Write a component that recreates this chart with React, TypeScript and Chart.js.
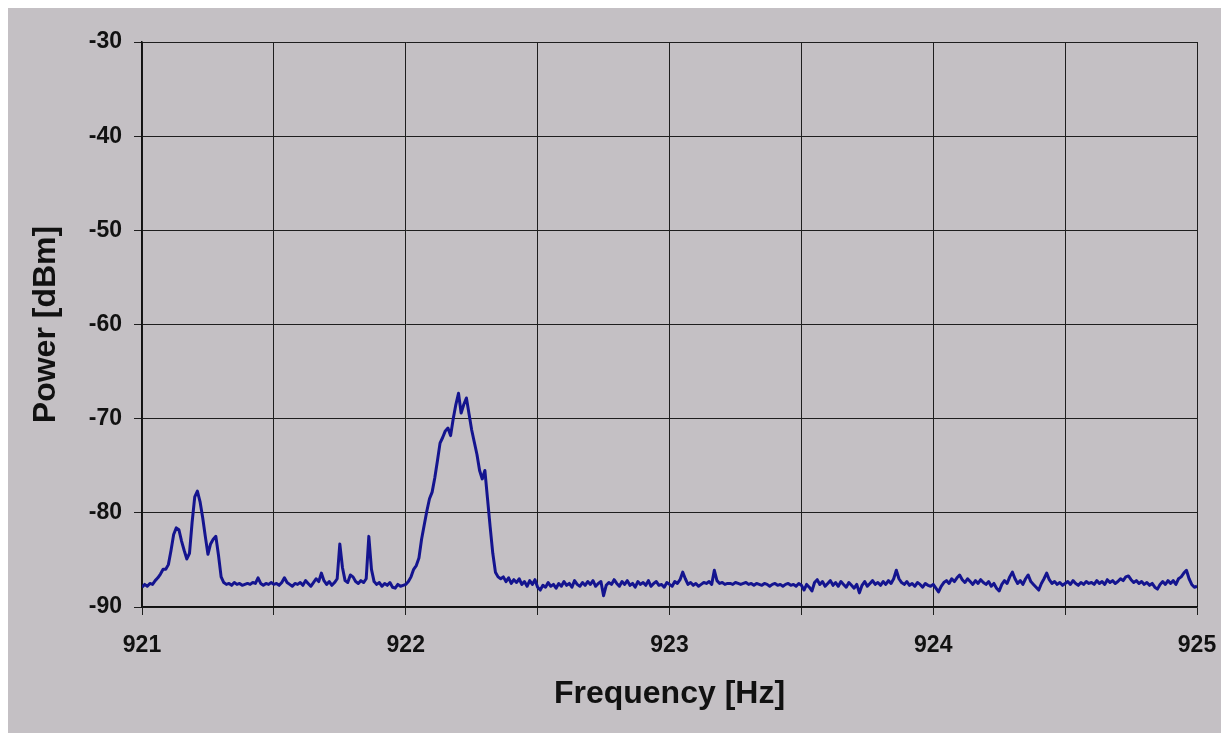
import React, { useEffect, useRef } from "react";
import { Chart, registerables } from "chart.js";

Chart.register(...registerables);

// Frequency samples [Hz]
const freqHz = [
  921.00, 921.01, 921.02, 921.03, 921.04, 921.05, 921.06, 921.07, 921.08, 921.09,
  921.10, 921.11, 921.12, 921.13, 921.14, 921.15, 921.16, 921.17, 921.18, 921.19,
  921.20, 921.21, 921.22, 921.23, 921.24, 921.25, 921.26, 921.27, 921.28, 921.29,
  921.30, 921.31, 921.32, 921.33, 921.34, 921.35, 921.36, 921.37, 921.38, 921.39,
  921.40, 921.41, 921.42, 921.43, 921.44, 921.45, 921.46, 921.47, 921.48, 921.49,
  921.50, 921.51, 921.52, 921.53, 921.54, 921.55, 921.56, 921.57, 921.58, 921.59,
  921.60, 921.61, 921.62, 921.63, 921.64, 921.65, 921.66, 921.67, 921.68, 921.69,
  921.70, 921.71, 921.72, 921.73, 921.74, 921.75, 921.76, 921.77, 921.78, 921.79,
  921.80, 921.81, 921.82, 921.83, 921.84, 921.85, 921.86, 921.87, 921.88, 921.89,
  921.90, 921.91, 921.92, 921.93, 921.94, 921.95, 921.96, 921.97, 921.98, 921.99,
  922.00, 922.01, 922.02, 922.03, 922.04, 922.05, 922.06, 922.07, 922.08, 922.09,
  922.10, 922.11, 922.12, 922.13, 922.14, 922.15, 922.16, 922.17, 922.18, 922.19,
  922.20, 922.21, 922.22, 922.23, 922.24, 922.25, 922.26, 922.27, 922.28, 922.29,
  922.30, 922.31, 922.32, 922.33, 922.34, 922.35, 922.36, 922.37, 922.38, 922.39,
  922.40, 922.41, 922.42, 922.43, 922.44, 922.45, 922.46, 922.47, 922.48, 922.49,
  922.50, 922.51, 922.52, 922.53, 922.54, 922.55, 922.56, 922.57, 922.58, 922.59,
  922.60, 922.61, 922.62, 922.63, 922.64, 922.65, 922.66, 922.67, 922.68, 922.69,
  922.70, 922.71, 922.72, 922.73, 922.74, 922.75, 922.76, 922.77, 922.78, 922.79,
  922.80, 922.81, 922.82, 922.83, 922.84, 922.85, 922.86, 922.87, 922.88, 922.89,
  922.90, 922.91, 922.92, 922.93, 922.94, 922.95, 922.96, 922.97, 922.98, 922.99,
  923.00, 923.01, 923.02, 923.03, 923.04, 923.05, 923.06, 923.07, 923.08, 923.09,
  923.10, 923.11, 923.12, 923.13, 923.14, 923.15, 923.16, 923.17, 923.18, 923.19,
  923.20, 923.21, 923.22, 923.23, 923.24, 923.25, 923.26, 923.27, 923.28, 923.29,
  923.30, 923.31, 923.32, 923.33, 923.34, 923.35, 923.36, 923.37, 923.38, 923.39,
  923.40, 923.41, 923.42, 923.43, 923.44, 923.45, 923.46, 923.47, 923.48, 923.49,
  923.50, 923.51, 923.52, 923.53, 923.54, 923.55, 923.56, 923.57, 923.58, 923.59,
  923.60, 923.61, 923.62, 923.63, 923.64, 923.65, 923.66, 923.67, 923.68, 923.69,
  923.70, 923.71, 923.72, 923.73, 923.74, 923.75, 923.76, 923.77, 923.78, 923.79,
  923.80, 923.81, 923.82, 923.83, 923.84, 923.85, 923.86, 923.87, 923.88, 923.89,
  923.90, 923.91, 923.92, 923.93, 923.94, 923.95, 923.96, 923.97, 923.98, 923.99,
  924.00, 924.01, 924.02, 924.03, 924.04, 924.05, 924.06, 924.07, 924.08, 924.09,
  924.10, 924.11, 924.12, 924.13, 924.14, 924.15, 924.16, 924.17, 924.18, 924.19,
  924.20, 924.21, 924.22, 924.23, 924.24, 924.25, 924.26, 924.27, 924.28, 924.29,
  924.30, 924.31, 924.32, 924.33, 924.34, 924.35, 924.36, 924.37, 924.38, 924.39,
  924.40, 924.41, 924.42, 924.43, 924.44, 924.45, 924.46, 924.47, 924.48, 924.49,
  924.50, 924.51, 924.52, 924.53, 924.54, 924.55, 924.56, 924.57, 924.58, 924.59,
  924.60, 924.61, 924.62, 924.63, 924.64, 924.65, 924.66, 924.67, 924.68, 924.69,
  924.70, 924.71, 924.72, 924.73, 924.74, 924.75, 924.76, 924.77, 924.78, 924.79,
  924.80, 924.81, 924.82, 924.83, 924.84, 924.85, 924.86, 924.87, 924.88, 924.89,
  924.90, 924.91, 924.92, 924.93, 924.94, 924.95, 924.96, 924.97, 924.98, 924.99,
  925.00,
];

const powerDbm = [
  -87.9, -87.6, -87.8, -87.5, -87.6, -87.2, -86.9, -86.5, -86.0, -86.0,
  -85.5, -84.0, -82.3, -81.6, -81.8, -83.0, -84.0, -84.9, -84.3, -81.0,
  -78.3, -77.7, -78.8, -80.5, -82.5, -84.4, -83.3, -82.8, -82.5, -84.5,
  -86.8, -87.4, -87.6, -87.5, -87.7, -87.4, -87.6, -87.5, -87.7, -87.6,
  -87.5, -87.6, -87.4, -87.5, -86.9, -87.5, -87.7, -87.5, -87.6, -87.4,
  -87.6, -87.5, -87.7, -87.4, -86.9, -87.4, -87.6, -87.8, -87.5, -87.6,
  -87.4, -87.7, -87.2, -87.5, -87.8, -87.4, -87.0, -87.3, -86.4, -87.2,
  -87.6, -87.3, -87.7, -87.4, -87.0, -83.3, -85.8, -87.2, -87.4, -86.6,
  -86.8, -87.3, -87.5, -87.2, -87.4, -87.0, -82.5, -86.0, -87.3, -87.6,
  -87.4, -87.8, -87.5, -87.7, -87.4, -87.9, -88.0, -87.6, -87.8, -87.7,
  -87.6, -87.3, -86.8, -86.0, -85.6, -84.8, -82.8, -81.3, -79.8, -78.5,
  -77.8, -76.3, -74.5, -72.6, -72.0, -71.3, -71.0, -71.8, -70.0, -68.5,
  -67.3, -69.4, -68.5, -67.8, -69.5, -71.2, -72.5, -73.8, -75.5, -76.4,
  -75.5, -78.5, -81.5, -84.3, -86.3, -86.8, -87.0, -86.8, -87.3, -86.9,
  -87.5, -87.1, -87.4, -87.0, -87.6, -87.3, -87.8, -87.2, -87.6, -87.1,
  -87.9, -88.2, -87.7, -87.9, -87.4, -87.8, -87.6, -88.0, -87.5, -87.8,
  -87.3, -87.7, -87.5, -87.9, -87.2, -87.6, -87.8, -87.4, -87.7, -87.3,
  -87.6, -87.2, -87.8, -87.5, -87.3, -88.8, -87.7, -87.4, -87.6, -87.1,
  -87.5, -87.8, -87.3, -87.6, -87.2, -87.7, -87.5, -87.9, -87.3, -87.6,
  -87.4, -87.7, -87.2, -87.8, -87.5, -87.3, -87.7, -87.6, -87.9, -87.4,
  -87.6, -87.8, -87.3, -87.5, -87.1, -86.3, -87.0, -87.6, -87.4, -87.7,
  -87.5, -87.8, -87.6, -87.4, -87.5, -87.3, -87.6, -86.1, -87.2, -87.5,
  -87.4, -87.6, -87.5, -87.5, -87.6, -87.4, -87.5, -87.6, -87.5, -87.4,
  -87.6, -87.5, -87.7, -87.5, -87.6, -87.7, -87.5, -87.6, -87.8, -87.6,
  -87.5, -87.7, -87.6, -87.8, -87.6, -87.5, -87.7, -87.6, -87.8, -87.5,
  -87.7, -88.2, -87.6, -87.9, -88.3, -87.4, -87.1, -87.6, -87.3, -87.8,
  -87.5, -87.2, -87.7, -87.4, -87.8, -87.3, -87.6, -87.9, -87.4, -87.7,
  -88.0, -87.6, -88.5, -87.7, -87.3, -87.8, -87.5, -87.2, -87.6, -87.4,
  -87.7, -87.3, -87.6, -87.2, -87.5, -87.0, -86.1, -87.0, -87.4, -87.6,
  -87.3, -87.7, -87.5, -87.8, -87.4, -87.6, -87.9, -87.5, -87.7, -87.8,
  -87.6, -88.0, -88.4, -87.8, -87.4, -87.2, -87.5, -87.0, -87.3, -86.9,
  -86.6, -87.1, -87.4, -87.0, -87.3, -87.6, -87.2, -87.5, -87.1, -87.4,
  -87.6, -87.3, -87.8, -87.5, -88.0, -88.3, -87.6, -87.2, -87.5, -86.8,
  -86.3, -87.0, -87.5, -87.2, -87.6, -87.0, -86.6, -87.3, -87.6, -87.9,
  -88.2, -87.5, -87.0, -86.4, -87.1, -87.5, -87.3, -87.6, -87.4, -87.7,
  -87.5, -87.3, -87.6, -87.2, -87.5, -87.7, -87.4, -87.6, -87.3, -87.5,
  -87.4, -87.6, -87.2, -87.5, -87.3, -87.6, -87.1, -87.4, -87.2, -87.5,
  -87.3, -87.0, -87.2, -86.8, -86.7, -87.1, -87.4, -87.2, -87.5, -87.3,
  -87.6, -87.4, -87.7, -87.5, -87.9, -88.1, -87.6, -87.3, -87.6, -87.2,
  -87.5, -87.2, -87.6, -87.0, -86.8, -86.4, -86.1, -87.0, -87.6, -87.9,
  -87.8,
];

const xTickLabels = ["921", "922", "923", "924", "925"];
const yTickLabels = ["-90", "-80", "-70", "-60", "-50", "-40", "-30"];

const FONT = "'Liberation Sans', Arial, Helvetica, sans-serif";

export default function App() {
  const ref = useRef<HTMLCanvasElement | null>(null);

  useEffect(() => {
    document.body.style.overflow = "hidden";
    const canvas = ref.current;
    if (!canvas) return;
    const chart = new Chart(canvas, {
      type: "line",
      data: {
        datasets: [
          {
            data: freqHz.map((f, i) => ({ x: f, y: powerDbm[i] })),
            borderColor: "#14148f",
            borderWidth: 3,
            pointRadius: 0,
            fill: false,
            tension: 0,
            borderJoinStyle: "round",
          },
        ],
      },
      options: {
        animation: false,
        responsive: false,
        devicePixelRatio: 1,
        layout: { padding: { top: 35, right: 25, left: 0, bottom: 0 } },
        plugins: { legend: { display: false }, tooltip: { enabled: false } },
        scales: {
          x: {
            type: "linear",
            position: "bottom",
            min: 921,
            max: 925,
            afterFit: (s: any) => {
              s.height = 126;
              s.paddingLeft = 0;
              s.paddingRight = 0;
            },
            ticks: {
              stepSize: 0.5,
              autoSkip: false,
              maxRotation: 0,
              padding: 17,
              color: "#111",
              font: { family: FONT, size: 23, weight: "bold" },
              callback: (v: any) => {
                const n = Number(v);
                return Number.isInteger(n) ? xTickLabels[n - 921] : "";
              },
            },
            grid: { color: "#1e1e1e", lineWidth: 1, tickLength: 8, drawTicks: true },
            border: { color: "#111", width: 1.5 },
            title: {
              display: true,
              text: "Frequency [Hz]",
              color: "#111",
              font: { family: FONT, size: 32, weight: "bold" },
              padding: { top: 0, bottom: 20 },
            },
          },
          y: {
            type: "linear",
            min: -90,
            max: -30,
            afterFit: (s: any) => {
              s.width = 134;
              s.paddingTop = 0;
              s.paddingBottom = 0;
            },
            ticks: {
              stepSize: 10,
              padding: 12,
              color: "#111",
              font: { family: FONT, size: 23, weight: "bold" },
              callback: (v: any) => {
                const idx = (Number(v) + 90) / 10;
                return yTickLabels[idx] ?? String(v);
              },
            },
            grid: { color: "#1e1e1e", lineWidth: 1, tickLength: 8, drawTicks: true },
            border: { color: "#111", width: 1.5 },
            title: {
              display: true,
              text: "Power [dBm]",
              color: "#111",
              font: { family: FONT, size: 32, weight: "bold" },
              padding: { top: 19, bottom: 0 },
            },
          },
        },
      },
    });
    return () => chart.destroy();
  }, []);

  return (
    <div
      style={{
        width: 1214,
        height: 726,
        marginTop: -1,
        background: "#c4c0c4",
        position: "relative",
      }}
    >
      <canvas ref={ref} width={1214} height={726} style={{ display: "block" }} />
    </div>
  );
}
